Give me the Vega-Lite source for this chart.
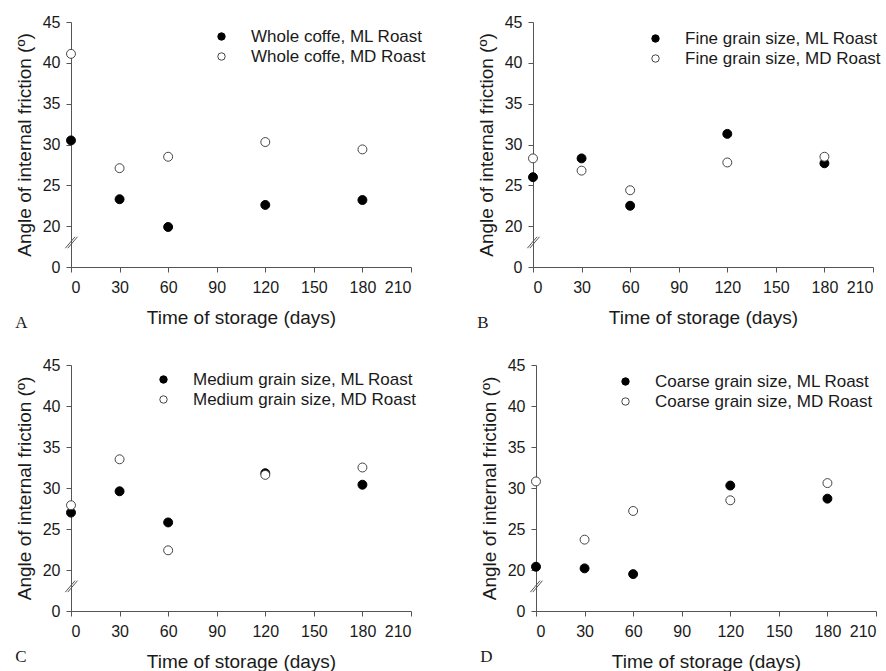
{
  "$schema": "https://vega.github.io/schema/vega-lite/v6.json",
  "background": "white",
  "padding": {"left": 15, "top": 14, "right": 5, "bottom": 5},
  "datasets": {
    "pts": [
      {"panel": "A", "roast": "ML", "days": 0, "angle": 30.5},
      {"panel": "A", "roast": "ML", "days": 30, "angle": 23.3},
      {"panel": "A", "roast": "ML", "days": 60, "angle": 19.9},
      {"panel": "A", "roast": "ML", "days": 120, "angle": 22.6},
      {"panel": "A", "roast": "ML", "days": 180, "angle": 23.2},
      {"panel": "A", "roast": "MD", "days": 0, "angle": 41.1},
      {"panel": "A", "roast": "MD", "days": 30, "angle": 27.1},
      {"panel": "A", "roast": "MD", "days": 60, "angle": 28.5},
      {"panel": "A", "roast": "MD", "days": 120, "angle": 30.3},
      {"panel": "A", "roast": "MD", "days": 180, "angle": 29.4},
      {"panel": "B", "roast": "ML", "days": 0, "angle": 26.0},
      {"panel": "B", "roast": "ML", "days": 30, "angle": 28.3},
      {"panel": "B", "roast": "ML", "days": 60, "angle": 22.5},
      {"panel": "B", "roast": "ML", "days": 120, "angle": 31.3},
      {"panel": "B", "roast": "ML", "days": 180, "angle": 27.7},
      {"panel": "B", "roast": "MD", "days": 0, "angle": 28.3},
      {"panel": "B", "roast": "MD", "days": 30, "angle": 26.8},
      {"panel": "B", "roast": "MD", "days": 60, "angle": 24.4},
      {"panel": "B", "roast": "MD", "days": 120, "angle": 27.8},
      {"panel": "B", "roast": "MD", "days": 180, "angle": 28.5},
      {"panel": "C", "roast": "ML", "days": 0, "angle": 27.0},
      {"panel": "C", "roast": "ML", "days": 30, "angle": 29.6},
      {"panel": "C", "roast": "ML", "days": 60, "angle": 25.8},
      {"panel": "C", "roast": "ML", "days": 120, "angle": 31.8},
      {"panel": "C", "roast": "ML", "days": 180, "angle": 30.4},
      {"panel": "C", "roast": "MD", "days": 0, "angle": 27.9},
      {"panel": "C", "roast": "MD", "days": 30, "angle": 33.5},
      {"panel": "C", "roast": "MD", "days": 60, "angle": 22.4},
      {"panel": "C", "roast": "MD", "days": 120, "angle": 31.6},
      {"panel": "C", "roast": "MD", "days": 180, "angle": 32.5},
      {"panel": "D", "roast": "ML", "days": 0, "angle": 20.4},
      {"panel": "D", "roast": "ML", "days": 30, "angle": 20.2},
      {"panel": "D", "roast": "ML", "days": 60, "angle": 19.5},
      {"panel": "D", "roast": "ML", "days": 120, "angle": 30.3},
      {"panel": "D", "roast": "ML", "days": 180, "angle": 28.7},
      {"panel": "D", "roast": "MD", "days": 0, "angle": 30.8},
      {"panel": "D", "roast": "MD", "days": 30, "angle": 23.7},
      {"panel": "D", "roast": "MD", "days": 60, "angle": 27.2},
      {"panel": "D", "roast": "MD", "days": 120, "angle": 28.5},
      {"panel": "D", "roast": "MD", "days": 180, "angle": 30.6}
    ]
  },
  "config": {
    "view": {"stroke": null},
    "font": "Liberation Sans",
    "axis": {
      "grid": false,
      "domainColor": "#555",
      "tickColor": "#555",
      "labelColor": "#1a1a1a",
      "titleColor": "#1a1a1a",
      "labelFont": "Liberation Sans",
      "titleFont": "Liberation Sans",
      "labelFontSize": 16,
      "titleFontSize": 19,
      "titleFontWeight": "normal",
      "tickSize": 5
    },
    "legend": {
      "labelFont": "Liberation Sans",
      "labelFontSize": 17,
      "labelColor": "#1a1a1a",
      "labelLimit": 0,
      "symbolSize": 55,
      "symbolStrokeWidth": 1,
      "labelOffset": 21,
      "rowPadding": 2
    },
    "title": {"font": "Liberation Serif", "fontSize": 17, "fontWeight": "normal", "color": "#1a1a1a"}
  },
  "resolve": {"legend": {"fill": "independent", "stroke": "independent"}},
  "spacing": 26,
  "vconcat": [
    {
      "resolve": {"legend": {"fill": "independent", "stroke": "independent"}},
      "spacing": 51,
      "hconcat": [
        {
          "width": 340, "height": 245,
          "title": {"text": "A", "orient": "bottom", "anchor": "start", "offset": -12},
          "layer": [
            {
              "data": {"name": "pts"},
              "transform": [{"filter": "datum.panel == 'A'"}],
              "mark": {"type": "point", "filled": false, "opacity": 1, "size": 80, "strokeWidth": 1},
              "encoding": {
                "x": {"field": "days", "type": "quantitative", "scale": {"domain": [0, 210], "nice": false}, "axis": {"values": [0, 30, 60, 90, 120, 150, 180, 210], "title": "Time of storage (days)", "labelPadding": 7, "titlePadding": 13}},
                "y": {"field": "angle", "type": "quantitative", "scale": {"domain": [15, 45], "nice": false, "zero": false}, "axis": {"values": [15, 20, 25, 30, 35, 40, 45], "labelExpr": "datum.value < 16 ? '0' : datum.label", "title": "Angle of internal friction (º)", "labelPadding": 6, "titlePadding": 8}},
                "fill": {"field": "roast", "type": "nominal", "scale": {"domain": ["ML", "MD"], "range": ["black", "white"]}, "legend": {"title": null, "orient": "none", "legendX": 142, "legendY": 6, "labelExpr": "'Whole coffe, ' + datum.label + ' Roast'"}},
                "stroke": {"field": "roast", "type": "nominal", "scale": {"domain": ["ML", "MD"], "range": ["black", "#444"]}, "legend": {"title": null, "orient": "none", "legendX": 142, "legendY": 6, "labelExpr": "'Whole coffe, ' + datum.label + ' Roast'"}}
              }
            },
            {"data": {"values": [{}]}, "mark": {"type": "rule", "color": "#555", "strokeWidth": 1}, "encoding": {"x": {"datum": -3.5}, "x2": {"datum": 2.5}, "y": {"datum": 17.3}, "y2": {"datum": 18.7}}},
            {"data": {"values": [{}]}, "mark": {"type": "rule", "color": "#555", "strokeWidth": 1}, "encoding": {"x": {"datum": -2}, "x2": {"datum": 4}, "y": {"datum": 17.3}, "y2": {"datum": 18.7}}}
          ]
        },
        {
          "width": 340, "height": 245,
          "title": {"text": "B", "orient": "bottom", "anchor": "start", "offset": -12},
          "layer": [
            {
              "data": {"name": "pts"},
              "transform": [{"filter": "datum.panel == 'B'"}],
              "mark": {"type": "point", "filled": false, "opacity": 1, "size": 80, "strokeWidth": 1},
              "encoding": {
                "x": {"field": "days", "type": "quantitative", "scale": {"domain": [0, 210], "nice": false}, "axis": {"values": [0, 30, 60, 90, 120, 150, 180, 210], "title": "Time of storage (days)", "labelPadding": 7, "titlePadding": 13}},
                "y": {"field": "angle", "type": "quantitative", "scale": {"domain": [15, 45], "nice": false, "zero": false}, "axis": {"values": [15, 20, 25, 30, 35, 40, 45], "labelExpr": "datum.value < 16 ? '0' : datum.label", "title": "Angle of internal friction (º)", "labelPadding": 6, "titlePadding": 8}},
                "fill": {"field": "roast", "type": "nominal", "scale": {"domain": ["ML", "MD"], "range": ["black", "white"]}, "legend": {"title": null, "orient": "none", "legendX": 114, "legendY": 8, "labelExpr": "'Fine grain size, ' + datum.label + ' Roast'"}},
                "stroke": {"field": "roast", "type": "nominal", "scale": {"domain": ["ML", "MD"], "range": ["black", "#444"]}, "legend": {"title": null, "orient": "none", "legendX": 114, "legendY": 8, "labelExpr": "'Fine grain size, ' + datum.label + ' Roast'"}}
              }
            },
            {"data": {"values": [{}]}, "mark": {"type": "rule", "color": "#555", "strokeWidth": 1}, "encoding": {"x": {"datum": -3.5}, "x2": {"datum": 2.5}, "y": {"datum": 17.3}, "y2": {"datum": 18.7}}},
            {"data": {"values": [{}]}, "mark": {"type": "rule", "color": "#555", "strokeWidth": 1}, "encoding": {"x": {"datum": -2}, "x2": {"datum": 4}, "y": {"datum": 17.3}, "y2": {"datum": 18.7}}}
          ]
        }
      ]
    },
    {
      "resolve": {"legend": {"fill": "independent", "stroke": "independent"}},
      "spacing": 64,
      "hconcat": [
        {
          "width": 340, "height": 246,
          "title": {"text": "C", "orient": "bottom", "anchor": "start", "offset": -22},
          "layer": [
            {
              "data": {"name": "pts"},
              "transform": [{"filter": "datum.panel == 'C'"}],
              "mark": {"type": "point", "filled": false, "opacity": 1, "size": 80, "strokeWidth": 1},
              "encoding": {
                "x": {"field": "days", "type": "quantitative", "scale": {"domain": [0, 210], "nice": false}, "axis": {"values": [0, 30, 60, 90, 120, 150, 180, 210], "title": "Time of storage (days)", "labelPadding": 7, "titlePadding": 13}},
                "y": {"field": "angle", "type": "quantitative", "scale": {"domain": [15, 45], "nice": false, "zero": false}, "axis": {"values": [15, 20, 25, 30, 35, 40, 45], "labelExpr": "datum.value < 16 ? '0' : datum.label", "title": "Angle of internal friction (º)", "labelPadding": 6, "titlePadding": 8}},
                "fill": {"field": "roast", "type": "nominal", "scale": {"domain": ["ML", "MD"], "range": ["black", "white"]}, "legend": {"title": null, "orient": "none", "legendX": 84, "legendY": 6, "labelExpr": "'Medium grain size, ' + datum.label + ' Roast'"}},
                "stroke": {"field": "roast", "type": "nominal", "scale": {"domain": ["ML", "MD"], "range": ["black", "#444"]}, "legend": {"title": null, "orient": "none", "legendX": 84, "legendY": 6, "labelExpr": "'Medium grain size, ' + datum.label + ' Roast'"}}
              }
            },
            {"data": {"values": [{}]}, "mark": {"type": "rule", "color": "#555", "strokeWidth": 1}, "encoding": {"x": {"datum": -3.5}, "x2": {"datum": 2.5}, "y": {"datum": 17.3}, "y2": {"datum": 18.7}}},
            {"data": {"values": [{}]}, "mark": {"type": "rule", "color": "#555", "strokeWidth": 1}, "encoding": {"x": {"datum": -2}, "x2": {"datum": 4}, "y": {"datum": 17.3}, "y2": {"datum": 18.7}}}
          ]
        },
        {
          "width": 340, "height": 246,
          "title": {"text": "D", "orient": "bottom", "anchor": "start", "offset": -22},
          "layer": [
            {
              "data": {"name": "pts"},
              "transform": [{"filter": "datum.panel == 'D'"}],
              "mark": {"type": "point", "filled": false, "opacity": 1, "size": 80, "strokeWidth": 1},
              "encoding": {
                "x": {"field": "days", "type": "quantitative", "scale": {"domain": [0, 210], "nice": false}, "axis": {"values": [0, 30, 60, 90, 120, 150, 180, 210], "title": "Time of storage (days)", "labelPadding": 7, "titlePadding": 13}},
                "y": {"field": "angle", "type": "quantitative", "scale": {"domain": [15, 45], "nice": false, "zero": false}, "axis": {"values": [15, 20, 25, 30, 35, 40, 45], "labelExpr": "datum.value < 16 ? '0' : datum.label", "title": "Angle of internal friction (º)", "labelPadding": 6, "titlePadding": 8}},
                "fill": {"field": "roast", "type": "nominal", "scale": {"domain": ["ML", "MD"], "range": ["black", "white"]}, "legend": {"title": null, "orient": "none", "legendX": 81, "legendY": 8, "labelExpr": "'Coarse grain size, ' + datum.label + ' Roast'"}},
                "stroke": {"field": "roast", "type": "nominal", "scale": {"domain": ["ML", "MD"], "range": ["black", "#444"]}, "legend": {"title": null, "orient": "none", "legendX": 81, "legendY": 8, "labelExpr": "'Coarse grain size, ' + datum.label + ' Roast'"}}
              }
            },
            {"data": {"values": [{}]}, "mark": {"type": "rule", "color": "#555", "strokeWidth": 1}, "encoding": {"x": {"datum": -3.5}, "x2": {"datum": 2.5}, "y": {"datum": 17.3}, "y2": {"datum": 18.7}}},
            {"data": {"values": [{}]}, "mark": {"type": "rule", "color": "#555", "strokeWidth": 1}, "encoding": {"x": {"datum": -2}, "x2": {"datum": 4}, "y": {"datum": 17.3}, "y2": {"datum": 18.7}}}
          ]
        }
      ]
    }
  ]
}
